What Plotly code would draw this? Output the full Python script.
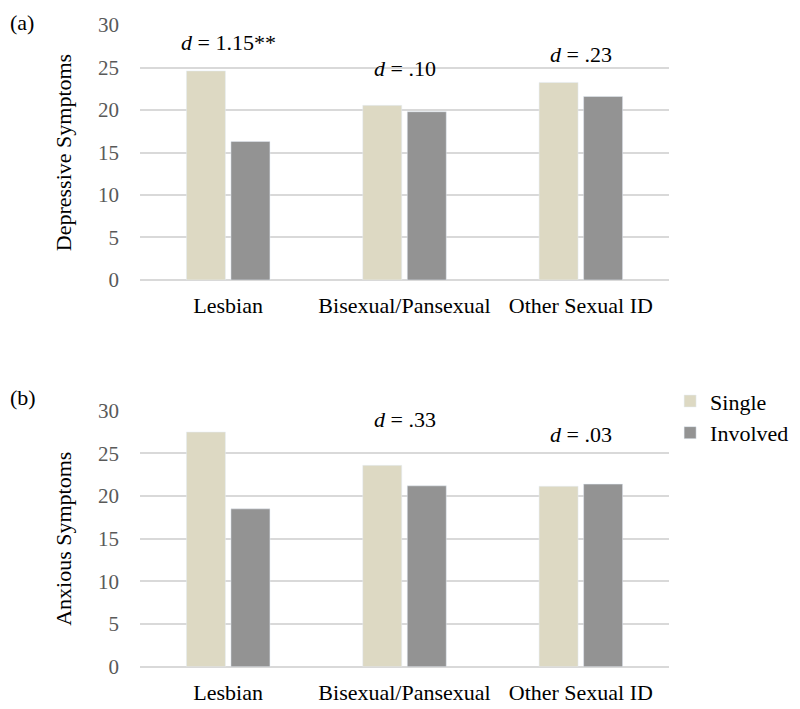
import plotly.graph_objects as go
from plotly.subplots import make_subplots

# data
groups = ["Lesbian", "Bisexual/Pansexual", "Other Sexual ID"]
dep_single = [24.6, 20.55, 23.25]
dep_involved = [16.3, 19.8, 21.6]
anx_single = [27.5, 23.6, 21.15]
anx_involved = [18.5, 21.2, 21.4]

# effect size labels (and where they sit on the value axis)
dep_d = ["1.15**", ".10", ".23"]
dep_d_y = [27.9, 24.9, 26.5]
anx_d = ["1.24**", ".33", ".03"]
anx_d_y = [30.7, 29.0, 27.2]

y_ticks = [0, 5, 10, 15, 20, 25, 30]

SINGLE = "#ddd9c3"
INVOLVED = "#939393"
FONT = "Liberation Serif"

fig = make_subplots(rows=2, cols=1)

fig.add_trace(go.Bar(x=groups, y=dep_single, name="Single", marker_color=SINGLE,
                     showlegend=False), row=1, col=1)
fig.add_trace(go.Bar(x=groups, y=dep_involved, name="Involved", marker_color=INVOLVED,
                     showlegend=False), row=1, col=1)
fig.add_trace(go.Bar(x=groups, y=anx_single, name="Single", marker_color=SINGLE), row=2, col=1)
fig.add_trace(go.Bar(x=groups, y=anx_involved, name="Involved", marker_color=INVOLVED), row=2, col=1)

# d labels
for g, t, yy in zip(groups, dep_d, dep_d_y):
    fig.add_annotation(x=g, y=yy, xref="x", yref="y", text="<i>d</i> = " + t,
                       showarrow=False, font=dict(family=FONT, size=22, color="black"))
for g, t, yy in zip(groups, anx_d, anx_d_y):
    fig.add_annotation(x=g, y=yy, xref="x2", yref="y2", text="<i>d</i> = " + t,
                       showarrow=False, font=dict(family=FONT, size=22, color="black"))

# panel letters
fig.add_annotation(x=0, y=1, xref="paper", yref="paper", text="(a)", showarrow=False,
                   xanchor="left", yanchor="top", font=dict(family=FONT, size=22, color="black"))
fig.add_annotation(x=0, y=0.4437, xref="paper", yref="paper", text="(b)", showarrow=False,
                   xanchor="left", yanchor="middle", font=dict(family=FONT, size=22, color="black"))

# page body adds an 8px offset, so figure is 792x701 and domains shifted accordingly
xdom = [0.1667, 0.8346]
fig.update_xaxes(domain=xdom, showgrid=False, showline=False, ticks="", automargin=False,
                 ticklabelstandoff=10,
                 tickfont=dict(family=FONT, size=22, color="black"))
fig.update_yaxes(range=[0, 30], tickvals=y_ticks, showgrid=True, gridcolor="#d9d9d9",
                 gridwidth=1.5, zeroline=True, zerolinecolor="#d9d9d9", zerolinewidth=1.5,
                 showline=False, ticks="", ticklabelstandoff=20, automargin=False,
                 tickfont=dict(family=FONT, size=21, color="#595959"),
                 title_font=dict(family=FONT, size=22, color="black"),
                 title_standoff=20)
fig.update_yaxes(domain=[0.612, 0.9757], title_text="Depressive Symptoms", row=1, col=1)
fig.update_yaxes(domain=[0.0603, 0.4255], title_text="Anxious Symptoms", row=2, col=1)

fig.update_layout(
    width=792, height=701,
    margin=dict(l=0, r=0, t=0, b=0, autoexpand=False),
    paper_bgcolor="white", plot_bgcolor="white",
    barmode="group", bargap=0.495, bargroupgap=0.124,
    font=dict(family=FONT, color="black"),
    legend=dict(x=0.836, y=0.469, xanchor="left", yanchor="top",
                font=dict(family=FONT, size=22, color="black"),
                itemwidth=30, tracegroupgap=0, bgcolor="rgba(0,0,0,0)"),
)

fig.write_html("out.html")
